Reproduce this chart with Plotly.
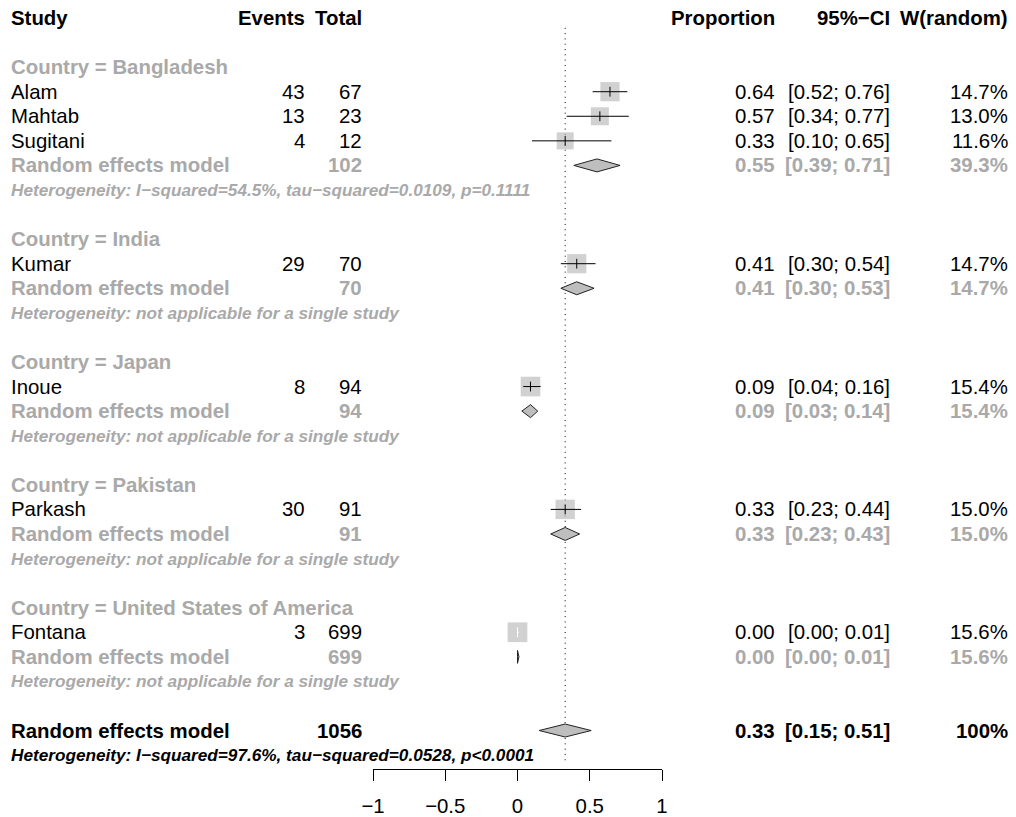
import plotly.graph_objects as go

# ---- data -------------------------------------------------------------
countries = ["Bangladesh", "India", "Japan", "Pakistan", "United States of America"]

studies = ["Alam", "Mahtab", "Sugitani", "Kumar", "Inoue", "Parkash", "Fontana"]
study_country = ["Bangladesh", "Bangladesh", "Bangladesh", "India", "Japan",
                 "Pakistan", "United States of America"]
events = [43, 13, 4, 29, 8, 30, 3]
totals = [67, 23, 12, 70, 94, 91, 699]
prop = [0.64, 0.57, 0.33, 0.41, 0.09, 0.33, 0.00]
ci_low = [0.52, 0.34, 0.10, 0.30, 0.04, 0.23, 0.00]
ci_high = [0.76, 0.77, 0.65, 0.54, 0.16, 0.44, 0.01]
weight = [14.7, 13.0, 11.6, 14.7, 15.4, 15.0, 15.6]

sub_total = [102, 70, 94, 91, 699]
sub_prop = [0.55, 0.41, 0.09, 0.33, 0.00]
sub_low = [0.39, 0.30, 0.03, 0.23, 0.00]
sub_high = [0.71, 0.53, 0.14, 0.43, 0.01]
sub_weight = [39.3, 14.7, 15.4, 15.0, 15.6]
sub_het = [
    "I\u2212squared=54.5%, tau\u2212squared=0.0109, p=0.1111",
    "not applicable for a single study",
    "not applicable for a single study",
    "not applicable for a single study",
    "not applicable for a single study",
]

overall_total = 1056
overall_prop, overall_low, overall_high = 0.33, 0.15, 0.51
overall_weight_label = "100%"
overall_het = "I\u2212squared=97.6%, tau\u2212squared=0.0528, p<0.0001"

x_ticks = [-1, -0.5, 0, 0.5, 1]

# ---- page geometry ----------------------------------------------------
W, H = 1016, 817
FONT = "Liberation Sans, Arial, Helvetica, sans-serif"
FS = 20.4        # main text size
FS_HET = 17.2    # heterogeneity line size
GRAY = "#A9A9A9"
SQ = "#BEBEBE"

ROW0, ROWH = 18.0, 24.57      # pixel centre of row 0 and row pitch
AXIS_PX = 769                  # pixel y of the x axis line
X_LEFT, X_RIGHT = 373, 662     # pixel extent of the -1..1 axis
PX_PER_UNIT = (X_RIGHT - X_LEFT) / 2.0

def px(x):
    return x / W

annotations = []

def txt(x_px, row, s, anchor="left", color="black", bold=False, italic=False, size=FS):
    if bold:
        s = "<b>" + s + "</b>"
    if italic:
        s = "<i>" + s + "</i>"
    annotations.append(dict(
        x=px(x_px), y=row, xref="paper", yref="y", text=s, showarrow=False,
        xanchor=anchor, yanchor="middle", borderpad=0,
        font=dict(family=FONT, size=size, color=color)))

# column anchors (pixels)
C_STUDY, C_EV, C_TOT, C_PROP, C_CI, C_W = 10, 306, 363, 776, 891, 1009

# header
txt(C_STUDY, 0, "Study", bold=True)
txt(C_EV, 0, "Events", "right", bold=True)
txt(C_TOT, 0, "Total", "right", bold=True)
txt(C_PROP, 0, "Proportion", "right", bold=True)
txt(C_CI, 0, "95%\u2212CI", "right", bold=True)
txt(C_W, 0, "W(random)", "right", bold=True)

def fmt_ci(lo, hi):
    return "[{:.2f}; {:.2f}]".format(lo, hi)

study_rows = []
diamonds = []   # (row, est, lo, hi)
row = 2
for g, country in enumerate(countries):
    txt(C_STUDY, row, "Country = " + country, color=GRAY, bold=True)
    row += 1
    for i, c in enumerate(study_country):
        if c != country:
            continue
        txt(C_STUDY, row, studies[i])
        txt(C_EV, row, str(events[i]), "right")
        txt(C_TOT, row, str(totals[i]), "right")
        txt(C_PROP, row, "{:.2f}".format(prop[i]), "right")
        txt(C_CI, row, fmt_ci(ci_low[i], ci_high[i]), "right")
        txt(C_W, row, "{:.1f}%".format(weight[i]), "right")
        study_rows.append((row, i))
        row += 1
    txt(C_STUDY, row, "Random effects model", color=GRAY, bold=True)
    txt(C_TOT, row, str(sub_total[g]), "right", color=GRAY, bold=True)
    txt(C_PROP, row, "{:.2f}".format(sub_prop[g]), "right", color=GRAY, bold=True)
    txt(C_CI, row, fmt_ci(sub_low[g], sub_high[g]), "right", color=GRAY, bold=True)
    txt(C_W, row, "{:.1f}%".format(sub_weight[g]), "right", color=GRAY, bold=True)
    diamonds.append((row, sub_prop[g], sub_low[g], sub_high[g]))
    row += 1
    txt(C_STUDY, row, "Heterogeneity: " + sub_het[g], color=GRAY, bold=True,
        italic=True, size=FS_HET)
    row += 2

overall_row = row
txt(C_STUDY, row, "Random effects model", bold=True)
txt(C_TOT, row, str(overall_total), "right", bold=True)
txt(C_PROP, row, "{:.2f}".format(overall_prop), "right", bold=True)
txt(C_CI, row, fmt_ci(overall_low, overall_high), "right", bold=True)
txt(C_W, row, overall_weight_label, "right", bold=True)
diamonds.append((row, overall_prop, overall_low, overall_high))
txt(C_STUDY, row + 1, "Heterogeneity: " + overall_het, bold=True, italic=True,
    size=FS_HET)

# ---- marks ------------------------------------------------------------
fig = go.Figure()

# reference line at the overall estimate
fig.add_trace(go.Scatter(
    x=[overall_prop, overall_prop], y=[0.4, overall_row + 1.3], mode="lines",
    line=dict(color="black", width=1, dash="1px,4.3px"), hoverinfo="skip"))

# study squares (side proportional to sqrt of weight)
sizes = [5.0 * w ** 0.5 for w in weight]
fig.add_trace(go.Scatter(
    x=[prop[i] for _, i in study_rows], y=[r for r, _ in study_rows],
    mode="markers", cliponaxis=False,
    marker=dict(symbol="square", color=SQ, size=[sizes[i] for _, i in study_rows],
                line=dict(width=0)),
    hoverinfo="skip"))

# confidence intervals; drawn white when they sit entirely inside the square
blk_x, blk_y, wht_x, wht_y = [], [], [], []
tick_blk, tick_wht = [], []
for r, i in study_rows:
    half = sizes[i] / 2.0 / PX_PER_UNIT
    inside = ci_low[i] >= prop[i] - half and ci_high[i] <= prop[i] + half
    xs, ys = (wht_x, wht_y) if inside else (blk_x, blk_y)
    xs += [ci_low[i], ci_high[i], None]
    ys += [r, r, None]
    (tick_wht if inside else tick_blk).append((prop[i], r))

fig.add_trace(go.Scatter(x=blk_x, y=blk_y, mode="lines",
                         line=dict(color="black", width=1), hoverinfo="skip"))
fig.add_trace(go.Scatter(x=wht_x, y=wht_y, mode="lines",
                         line=dict(color="white", width=1), hoverinfo="skip"))
for pts, col in ((tick_blk, "black"), (tick_wht, "white")):
    if pts:
        fig.add_trace(go.Scatter(
            x=[p[0] for p in pts], y=[p[1] for p in pts], mode="markers",
            marker=dict(symbol="line-ns", size=7, line=dict(color=col, width=1)),
            hoverinfo="skip"))

# pooled-estimate diamonds
half_h = 6.5 / ROWH
dx, dy = [], []
for r, est, lo, hi in diamonds:
    dx += [lo, est, hi, est, lo, None]
    dy += [r, r - half_h, r, r + half_h, r, None]
fig.add_trace(go.Scatter(x=dx, y=dy, mode="lines", fill="toself", fillcolor=SQ,
                         line=dict(color="#222222", width=1), hoverinfo="skip"))

# ---- layout -----------------------------------------------------------
y_top = (0 - ROW0) / ROWH
y_bot = (AXIS_PX - ROW0) / ROWH

fig.update_layout(
    width=W, height=H,
    margin=dict(l=0, r=0, t=0, b=0, autoexpand=False),
    paper_bgcolor="white", plot_bgcolor="white", showlegend=False,
    annotations=annotations,
    xaxis=dict(domain=[X_LEFT / W, X_RIGHT / W], range=[-1, 1],
               showgrid=False, zeroline=False, showline=True, linecolor="black",
               linewidth=1, ticks="outside", ticklen=11, tickcolor="black",
               tickwidth=1, tickvals=x_ticks, ticklabelstandoff=8,
               tickfont=dict(family=FONT, size=FS, color="black"),
               fixedrange=True),
    yaxis=dict(domain=[(H - AXIS_PX) / H, 1], range=[y_bot, y_top],
               visible=False, fixedrange=True),
)

fig.write_html("out.html")
